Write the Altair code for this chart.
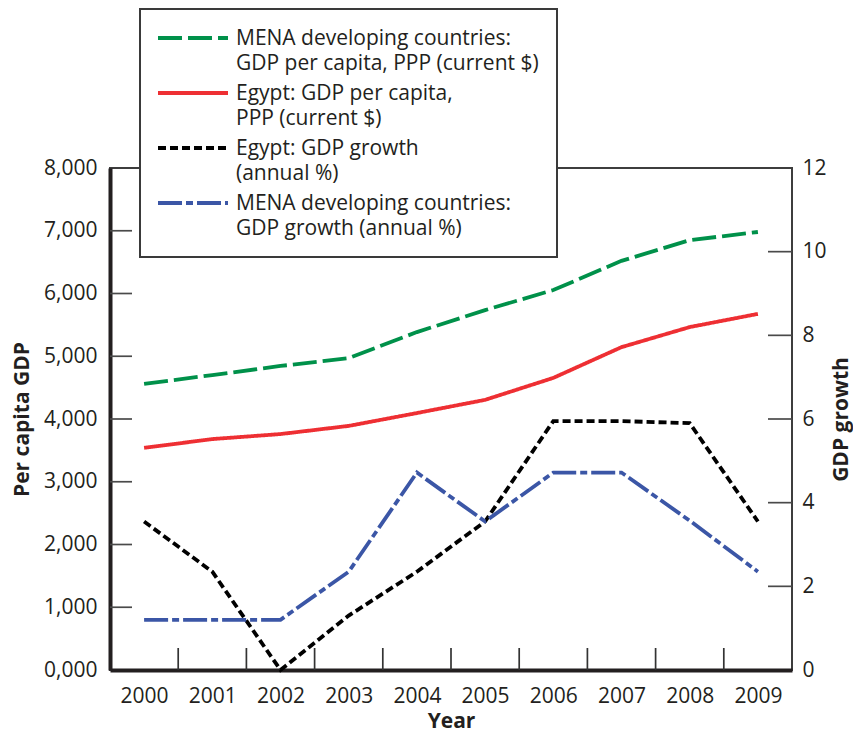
import altair as alt
import pandas as pd

years = [2000, 2001, 2002, 2003, 2004, 2005, 2006, 2007, 2008, 2009]
mena_pc = [4560, 4700, 4845, 4970, 5385, 5735, 6055, 6520, 6850, 6980]
egypt_pc = [3540, 3680, 3760, 3890, 4095, 4305, 4655, 5145, 5465, 5675]
egypt_growth = [3.55, 2.35, 0.0, 1.3, 2.35, 3.55, 5.95, 5.95, 5.9, 3.55]
mena_growth = [1.2, 1.2, 1.2, 2.35, 4.72, 3.55, 4.72, 4.72, 3.57, 2.35]

series = [
    "MENA developing countries:|GDP per capita, PPP (current $)",
    "Egypt: GDP per capita,|PPP (current $)",
    "Egypt: GDP growth|(annual %)",
    "MENA developing countries:|GDP growth (annual %)",
]
colors = ["#00914a", "#ee2f33", "#000000", "#3b56a6"]
dashes = [[24, 6], [1, 0], [8, 4], [24, 4, 7, 4]]

left_vals = [0, 1000, 2000, 3000, 4000, 5000, 6000, 7000, 8000]
right_vals = [0, 2, 4, 6, 8, 10, 12]
left_ticks = [1000, 2000, 3000, 4000, 5000, 6000, 7000]
right_ticks = [2, 4, 6, 8, 10]
year_ticks = [2000.5, 2001.5, 2002.5, 2003.5, 2004.5, 2005.5, 2006.5, 2007.5, 2008.5]

TXT = "#231f20"
FS = 21
W, H = 682, 502

df_pc = pd.DataFrame({
    "year": years * 2,
    "value": mena_pc + egypt_pc,
    "series": [series[0]] * 10 + [series[1]] * 10,
})
df_gr = pd.DataFrame({
    "year": years * 2,
    "value": egypt_growth + mena_growth,
    "series": [series[2]] * 10 + [series[3]] * 10,
})

xscale = alt.Scale(domain=[1999.5, 2009.5], nice=False, zero=False)
lscale = alt.Scale(domain=[0, 8000], nice=False)
rscale = alt.Scale(domain=[0, 12], nice=False)

legend = alt.Legend(
    title=" ", titleFontSize=6, titlePadding=0,
    orient="none", legendX=30, legendY=-159, direction="vertical",
    labelExpr="split(datum.label, '|')", labelFontSize=FS, labelColor=TXT,
    labelBaseline="alphabetic", labelLimit=700, labelOffset=54,
    symbolType="M-1.2,-0.7H5.8", symbolSize=400, symbolStrokeWidth=4,
    padding=18, rowPadding=9, strokeColor="#3a3a3a", fillColor="white",
)
color = alt.Color("series:N", scale=alt.Scale(domain=series, range=colors), legend=legend)
dash = alt.StrokeDash("series:N", scale=alt.Scale(domain=series, range=dashes), legend=legend)

xaxis = alt.Axis(values=years, format="d", ticks=False, tickSize=0, grid=False,
                 domainWidth=4, domainColor=TXT, labelPadding=15, labelFontSize=FS,
                 labelColor=TXT, title="Year", titleFontSize=FS, titleFontWeight="bold",
                 titleColor=TXT, titlePadding=4)

left_axis = alt.Axis(values=left_vals, labelExpr="datum.value == 0 ? '0,000' : format(datum.value, ',')",
                     ticks=False, tickSize=0, grid=False, domainWidth=4, domainColor=TXT,
                     labelPadding=13, labelFontSize=FS, labelColor=TXT,
                     title="Per capita GDP", titleFontSize=FS, titleFontWeight="bold",
                     titleColor=TXT, titlePadding=11)
right_axis = alt.Axis(values=right_vals, orient="right", ticks=False, tickSize=0, grid=False,
                      domain=False, labelPadding=10, labelFontSize=FS, labelColor=TXT,
                      title="GDP growth", titleFontSize=FS, titleFontWeight="bold",
                      titleColor=TXT, titleAngle=270, titleBaseline="top", titlePadding=4)

pc_lines = alt.Chart(df_pc).mark_line(strokeWidth=3.8).encode(
    x=alt.X("year:Q", scale=xscale, axis=xaxis),
    y=alt.Y("value:Q", scale=lscale, axis=left_axis),
    color=color, strokeDash=dash,
)
lt = alt.Chart(pd.DataFrame({"v": left_ticks})).mark_rule(color="#4a4a4a", strokeWidth=1.7).encode(
    y=alt.Y("v:Q", scale=lscale, axis=left_axis),
    x=alt.value(0), x2=alt.value(22),
)
xt = alt.Chart(pd.DataFrame({"t": year_ticks})).mark_rule(color="#333333", strokeWidth=1.7).encode(
    x=alt.X("t:Q", scale=xscale, axis=xaxis),
    y=alt.value(H - 22), y2=alt.value(H),
)
gr_lines = alt.Chart(df_gr).mark_line(strokeWidth=3.8).encode(
    x=alt.X("year:Q", scale=xscale, axis=xaxis),
    y=alt.Y("value:Q", scale=rscale, axis=right_axis),
    color=color, strokeDash=dash,
)
rt = alt.Chart(pd.DataFrame({"v": right_ticks})).mark_rule(color="#4a4a4a", strokeWidth=1.7).encode(
    y=alt.Y("v:Q", scale=rscale, axis=right_axis),
    x=alt.value(W - 24), x2=alt.value(W),
)

left = alt.layer(lt, xt, pc_lines)
right = alt.layer(rt, gr_lines)

chart = alt.layer(left, right).resolve_scale(y="independent").properties(
    width=W, height=H,
    padding={"left": 102, "top": 160, "right": 61, "bottom": 63},
    autosize=alt.AutoSizeParams(type="none"),
).configure(
    font="Open Sans", style={"guide-label": {"lineHeight": 25}}
).configure_view(stroke="#3d3d3d", strokeWidth=2).configure_legend(strokeWidth=2)

chart.save("out.html", embed_options={"renderer": "svg", "actions": False})
